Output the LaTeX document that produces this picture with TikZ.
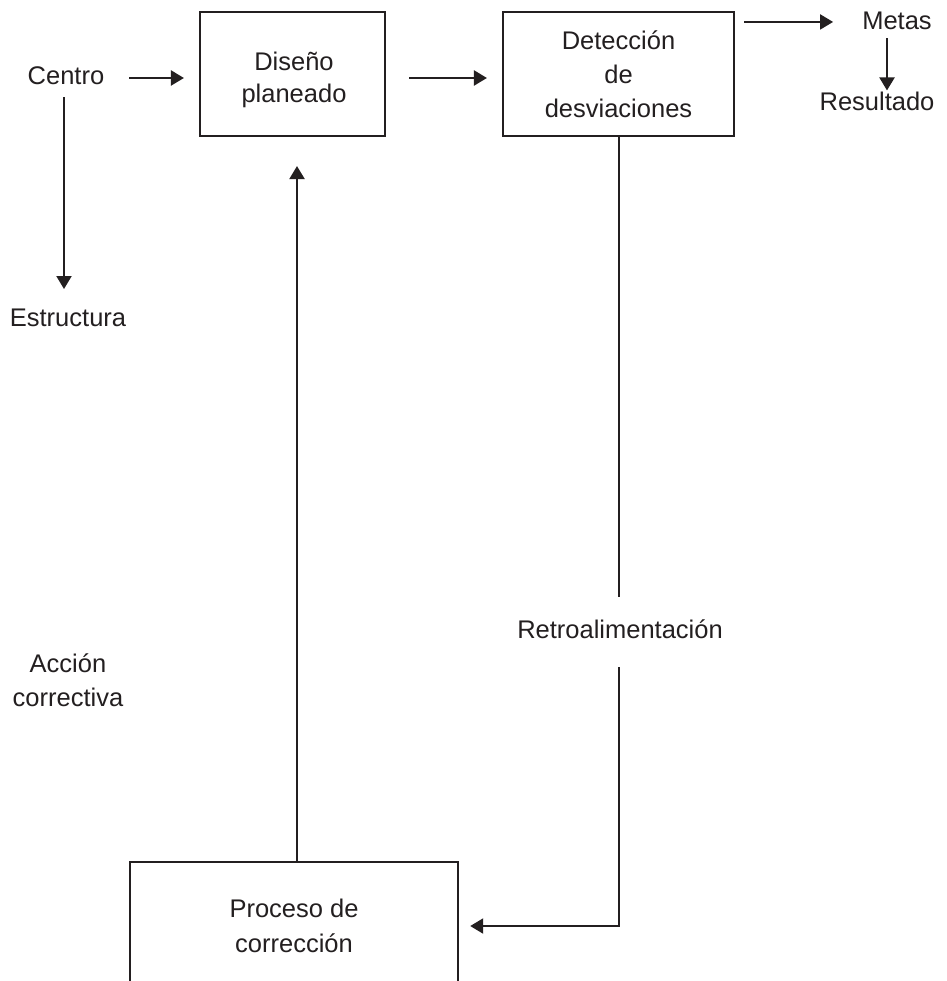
\documentclass[tikz,border=0pt]{standalone}
\usepackage{fontspec}
\setmainfont{Liberation Sans}
\usetikzlibrary{arrows.meta}
\definecolor{ink}{HTML}{231F20}
\tikzset{
  line/.style={draw=ink, line width=2.1pt},
  arr/.style={line, -{Triangle[length=13pt,width=15pt]}},
  box/.style={line, rectangle, inner sep=0pt},
  lbl/.style={inner sep=0pt, text=ink, align=center, font=\fontsize{25.5}{34}\selectfont}
}
\begin{document}
\begin{tikzpicture}[x=1pt,y=-1pt]
\useasboundingbox[fill=white] (0,0) rectangle (946,981);
% boxes
\node[box, minimum width=185pt, minimum height=124pt] (dis) at (292.5,74) {};
\node[lbl, font=\fontsize{25.5}{32}\selectfont] (dist) at (294,80) {Diseño\\planeado};
\node[box, lbl, minimum width=231pt, minimum height=124pt] (det) at (618.5,74) {Detección\\de\\desviaciones};
\node[lbl, font=\fontsize{25.5}{35}\selectfont, minimum width=328pt, minimum height=128pt] (proc) at (294,926) {Proceso de\\corrección};
\draw[line] (proc.south west) -- (proc.north west) -- (proc.north east) -- (proc.south east);
% labels
\node[lbl] (cen) at (66,75.5) {Centro};
\node[lbl] (est) at (68,317.5) {Estructura};
\node[lbl] (met) at (897,20.5) {Metas};
\node[lbl] (res) at (877,101.5) {Resultado};
\node[lbl] (retro) at (620,629.5) {Retroalimentación};
\node[lbl] (acc) at (68,680.5) {Acción\\correctiva};
% helper coordinates
\coordinate (dw) at ([yshift=-4pt]dis.west);
\coordinate (de) at ([yshift=-4pt]dis.east);
\coordinate (dm) at ([yshift=-11pt]det.north east);
\coordinate (mx) at (887,0);
\coordinate (cx) at (64,0);
\coordinate (ux) at (297,0);
\coordinate (fx) at (619,0);
% connectors
\draw[arr, shorten <=25pt, shorten >=15pt] (cen.east |- dw) -- (dw);
\draw[arr, shorten <=23pt, shorten >=15pt] (de) -- (de -| det.west);
\draw[arr, shorten <=9pt, shorten >=29pt] (dm) -- (dm -| met.west);
\draw[arr, shorten <=8.5pt, shorten >=1.5pt] (met.south -| mx) -- (res.north -| mx);
\draw[arr, shorten <=12.4pt, shorten >=19.4pt] (cen.south -| cx) -- (est.north -| cx);
\draw[arr, shorten >=29pt] (proc.north -| ux) -- (dis.south -| ux);
\draw[line, shorten >=22.5pt] (det.south -| fx) -- (retro.north -| fx);
\draw[arr, shorten <=28pt, shorten >=12pt] (retro.south -| fx) |- (proc.east);
\end{tikzpicture}
\end{document}
